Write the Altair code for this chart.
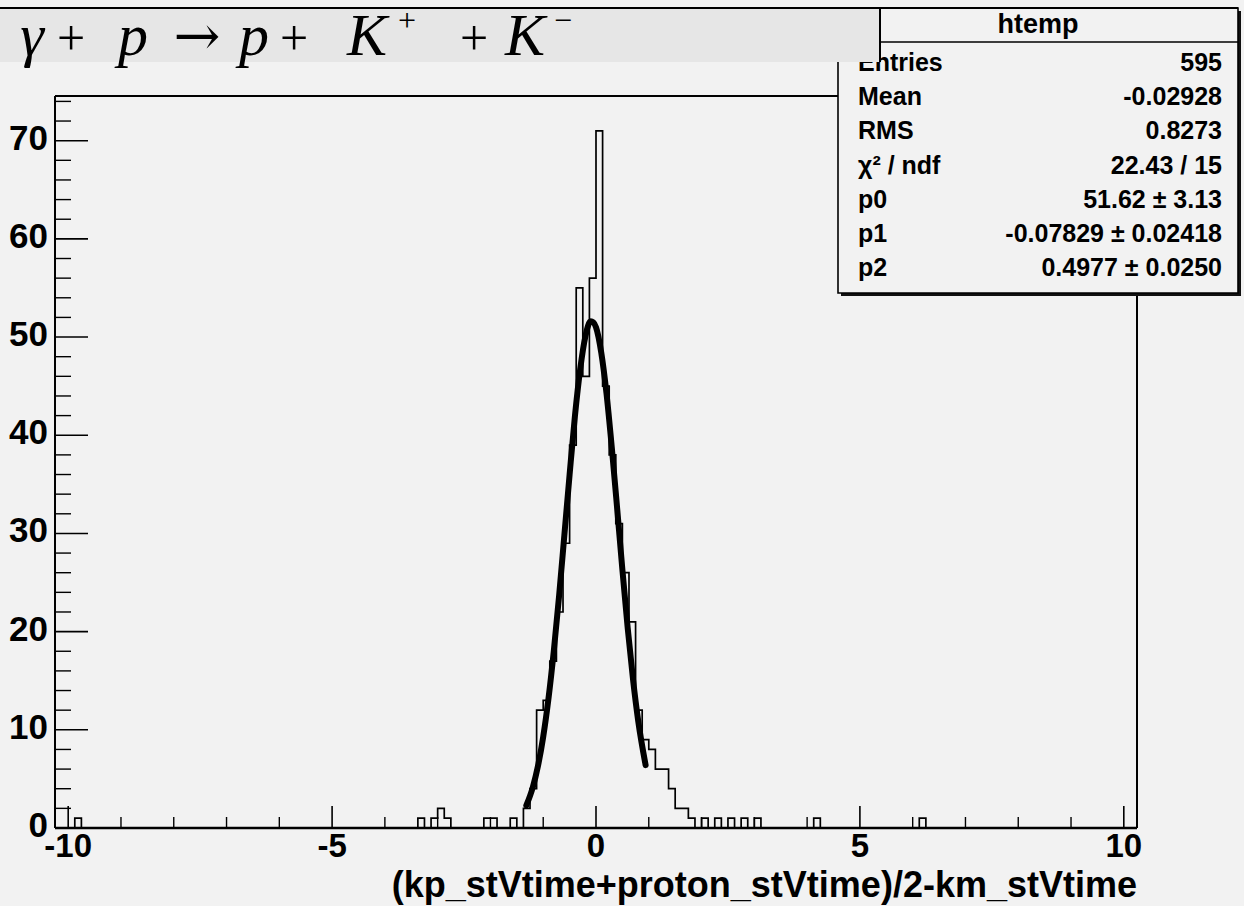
import altair as alt
import pandas as pd

# ---------------- data ----------------
BIN_LO, BIN_HI, BIN_W = -10.25, 10.25, 0.125
Y_MAX = 74.55

# left edges of the non-empty bins and their contents
BIN_LEFT = [-9.875, -3.375, -3.125, -3.0, -2.875, -2.125, -2.0, -1.625,
            -1.375, -1.25, -1.125, -1.0, -0.875, -0.75, -0.625, -0.5, -0.375,
            -0.25, -0.125, 0.0, 0.125, 0.25, 0.375, 0.5, 0.625, 0.75, 0.875,
            1.0, 1.125, 1.25, 1.375, 1.5, 1.625, 1.75,
            2.0, 2.25, 2.5, 2.75, 3.0, 4.125, 6.125]
BIN_COUNT = [1, 1, 1, 2, 1, 1, 1, 1,
             2, 4, 12, 13, 17, 22, 29, 39, 55,
             46, 56, 71, 45, 38, 31, 26, 21, 12, 9,
             8, 6, 6, 4, 2, 2, 1,
             1, 1, 1, 1, 1, 1, 1]

# fitted gaussian curve
FIT_X = [-1.32, -1.2, -1.1, -1.0, -0.9, -0.8, -0.7, -0.6, -0.5, -0.4, -0.3,
         -0.2, -0.1, -0.05, 0.0, 0.1, 0.2, 0.3, 0.4, 0.5, 0.6, 0.7, 0.8, 0.94]
FIT_Y = [2.3, 4.1, 6.3, 9.3, 13.2, 18.0, 23.6, 29.8, 36.0, 41.9, 46.7,
         50.1, 51.6, 51.5, 51.0, 48.4, 44.2, 38.7, 32.6, 26.3, 20.4, 15.2, 10.9, 6.4]

X_MAJOR = [-10, -5, 0, 5, 10]
X_LABELS = ["-10", "-5", "0", "5", "10"]
X_MINOR = [-9, -8, -7, -6, -4, -3, -2, -1, 1, 2, 3, 4, 6, 7, 8, 9]
Y_MAJOR = [0, 10, 20, 30, 40, 50, 60, 70]
Y_LABELS = ["0", "10", "20", "30", "40", "50", "60", "70"]
Y_MINOR = [2, 4, 6, 8, 12, 14, 16, 18, 22, 24, 26, 28, 32, 34, 36, 38,
           42, 44, 46, 48, 52, 54, 56, 58, 62, 64, 66, 68, 72, 74]

STAT_LABELS = ["Entries", "Mean", "RMS", "χ² / ndf", "p0", "p1", "p2"]
STAT_VALUES = ["595", "-0.02928", "0.8273", "22.43 / 15",
               "51.62 ± 3.13", "-0.07829 ± 0.02418", "0.4977 ± 0.0250"]
STATS_TITLE = "htemp"
X_TITLE = "(kp_stVtime+proton_stVtime)/2-km_stVtime"

# ---------------- layout ----------------
W, H = 1082, 732
PAD = {"left": 55, "top": 96, "right": 107, "bottom": 78}
BG = "#f2f2f2"
FONT = "Liberation Sans"

# title glyphs: text, centre x, font, italic, size, baseline y (pixels, relative to plot origin)
TITLE_GLYPHS = [
    ("γ", -23, "Liberation Serif", True, 60, -41),
    ("+", 16, "Liberation Serif", False, 50, -41),
    ("p", 78, "Liberation Serif", True, 60, -41),
    ("→", 142, "DejaVu Serif", False, 56, -41),
    ("p", 199, "Liberation Serif", True, 60, -41),
    ("+", 239, "Liberation Serif", False, 50, -41),
    ("K", 312, "Liberation Serif", True, 60, -41),
    ("+", 352, "Liberation Serif", False, 32, -65),
    ("+", 419, "Liberation Serif", False, 50, -41),
    ("K", 470, "Liberation Serif", True, 60, -41),
    ("−", 508, "Liberation Serif", False, 32, -65),
]

# ---------------- build tables ----------------
n_bins = int(round((BIN_HI - BIN_LO) / BIN_W))
counts = [0] * n_bins
for e, c in zip(BIN_LEFT, BIN_COUNT):
    counts[int(round((e - BIN_LO) / BIN_W))] = c
hist_df = pd.DataFrame({
    "edge": [BIN_LO + i * BIN_W for i in range(n_bins + 1)],
    "count": counts + [counts[-1]],
})
fit_df = pd.DataFrame({"fx": FIT_X, "fy": FIT_Y})

xs = alt.Scale(domain=[BIN_LO, BIN_HI], nice=False, zero=False)
ys = alt.Scale(domain=[0, Y_MAX], nice=False, zero=False)
one = pd.DataFrame({"a": [0]})

hist = alt.Chart(hist_df).mark_line(
    interpolate="step-after", color="black", strokeWidth=1.7
).encode(
    x=alt.X("edge:Q", scale=xs, axis=None),
    y=alt.Y("count:Q", scale=ys, axis=None),
)

fit = alt.Chart(fit_df).mark_line(
    interpolate="monotone", color="black", strokeWidth=6, strokeCap="round"
).encode(
    x=alt.X("fx:Q", scale=xs, axis=None),
    y=alt.Y("fy:Q", scale=ys, axis=None),
)


def rule(x1, x2, y1, y2, w=2.0, color="black"):
    return alt.Chart(one).mark_rule(color=color, strokeWidth=w).encode(
        x=alt.value(x1), x2=alt.value(x2), y=alt.value(y1), y2=alt.value(y2))


frame = [
    rule(0, W, 0, 0, 2), rule(W, W, 0, H, 2), rule(0, 0, 0, H, 2), rule(0, W, H, H, 2.5)
]

xmaj = alt.Chart(pd.DataFrame({"v": X_MAJOR})).mark_rule(color="black", strokeWidth=1.6).encode(
    x=alt.X("v:Q", scale=xs, axis=None), y=alt.value(H), y2=alt.value(H - 22))
xmin = alt.Chart(pd.DataFrame({"v": X_MINOR})).mark_rule(color="black", strokeWidth=1.4).encode(
    x=alt.X("v:Q", scale=xs, axis=None), y=alt.value(H), y2=alt.value(H - 11))
ymaj = alt.Chart(pd.DataFrame({"v": Y_MAJOR})).mark_rule(color="black", strokeWidth=1.6).encode(
    y=alt.Y("v:Q", scale=ys, axis=None), x=alt.value(0), x2=alt.value(33))
ymin = alt.Chart(pd.DataFrame({"v": Y_MINOR})).mark_rule(color="black", strokeWidth=1.4).encode(
    y=alt.Y("v:Q", scale=ys, axis=None), x=alt.value(0), x2=alt.value(16))

xlab = alt.Chart(pd.DataFrame({"v": X_MAJOR, "t": X_LABELS})).mark_text(
    font=FONT, fontWeight="bold", fontSize=33, align="center", baseline="middle", color="black"
).encode(x=alt.X("v:Q", scale=xs, axis=None), y=alt.value(H + 19), text="t:N")
ylab = alt.Chart(pd.DataFrame({"v": Y_MAJOR, "t": Y_LABELS})).mark_text(
    font=FONT, fontWeight="bold", fontSize=35, align="right", baseline="middle", color="black",
    dy=-2
).encode(y=alt.Y("v:Q", scale=ys, axis=None), x=alt.value(-7), text="t:N")

xtitle = alt.Chart(one).mark_text(
    text=X_TITLE, font=FONT, fontWeight="bold", fontSize=36, align="right",
    baseline="alphabetic", color="black"
).encode(x=alt.value(W), y=alt.value(H + 69))

# stats box
SX1, SX2, SY1, SY2 = 783, 1183, -88, 197
stats_shadow = [
    alt.Chart(one).mark_rect(color="#111111").encode(
        x=alt.value(SX1 + 3), x2=alt.value(SX2 + 3), y=alt.value(SY2), y2=alt.value(SY2 + 3)),
    alt.Chart(one).mark_rect(color="#111111").encode(
        x=alt.value(SX2), x2=alt.value(SX2 + 3), y=alt.value(SY1 + 3), y2=alt.value(SY2 + 3)),
]
stats_box = alt.Chart(one).mark_rect(fill=BG, stroke="black", strokeWidth=1.6).encode(
    x=alt.value(SX1), x2=alt.value(SX2), y=alt.value(SY1), y2=alt.value(SY2))
stats_head_line = rule(SX1, SX2, -54, -54, 1.6)
stats_head = alt.Chart(one).mark_text(
    text=STATS_TITLE, font=FONT, fontWeight="bold", fontSize=27,
    align="center", baseline="middle", color="black"
).encode(x=alt.value((SX1 + SX2) / 2), y=alt.value(-71))

stats_df = pd.DataFrame({"label": STAT_LABELS, "value": STAT_VALUES,
                         "row": list(range(len(STAT_LABELS)))})
stats_base = alt.Chart(stats_df).transform_calculate(ypix="-33 + 34.2 * datum.row")
stats_lab = stats_base.mark_text(
    font=FONT, fontWeight="bold", fontSize=25, align="left", baseline="middle", color="black"
).encode(text="label:N", x=alt.value(SX1 + 20), y=alt.Y("ypix:Q", scale=None, axis=None))
stats_val = stats_base.mark_text(
    font=FONT, fontWeight="bold", fontSize=25, align="right", baseline="middle", color="black"
).encode(text="value:N", x=alt.value(SX2 - 16), y=alt.Y("ypix:Q", scale=None, axis=None))

# title box
title_box = alt.Chart(one).mark_rect(color="#e6e6e6").encode(
    x=alt.value(-55), x2=alt.value(825), y=alt.value(-88), y2=alt.value(-34))
title_lines = [rule(-55, SX2, -88, -88, 2), rule(825, 825, -88, -34, 2)]

glyph_layers = []
for txt, gx, fnt, ital, size, gy in TITLE_GLYPHS:
    glyph_layers.append(
        alt.Chart(one).mark_text(
            text=txt, font=fnt, fontSize=size,
            fontStyle="italic" if ital else "normal",
            align="center", baseline="alphabetic", color="black"
        ).encode(x=alt.value(gx), y=alt.value(gy))
    )

chart = alt.layer(
    hist, fit, *frame, xmaj, xmin, ymaj, ymin, xlab, ylab, xtitle,
    *stats_shadow, stats_box, stats_head_line, stats_head, stats_lab, stats_val,
    title_box, *title_lines, *glyph_layers
).properties(
    width=W, height=H, padding=PAD,
    autosize=alt.AutoSizeParams(type="none"),
).configure(background=BG).configure_view(strokeWidth=0)

chart.save("out.html", embed_options={"renderer": "svg", "actions": False})
